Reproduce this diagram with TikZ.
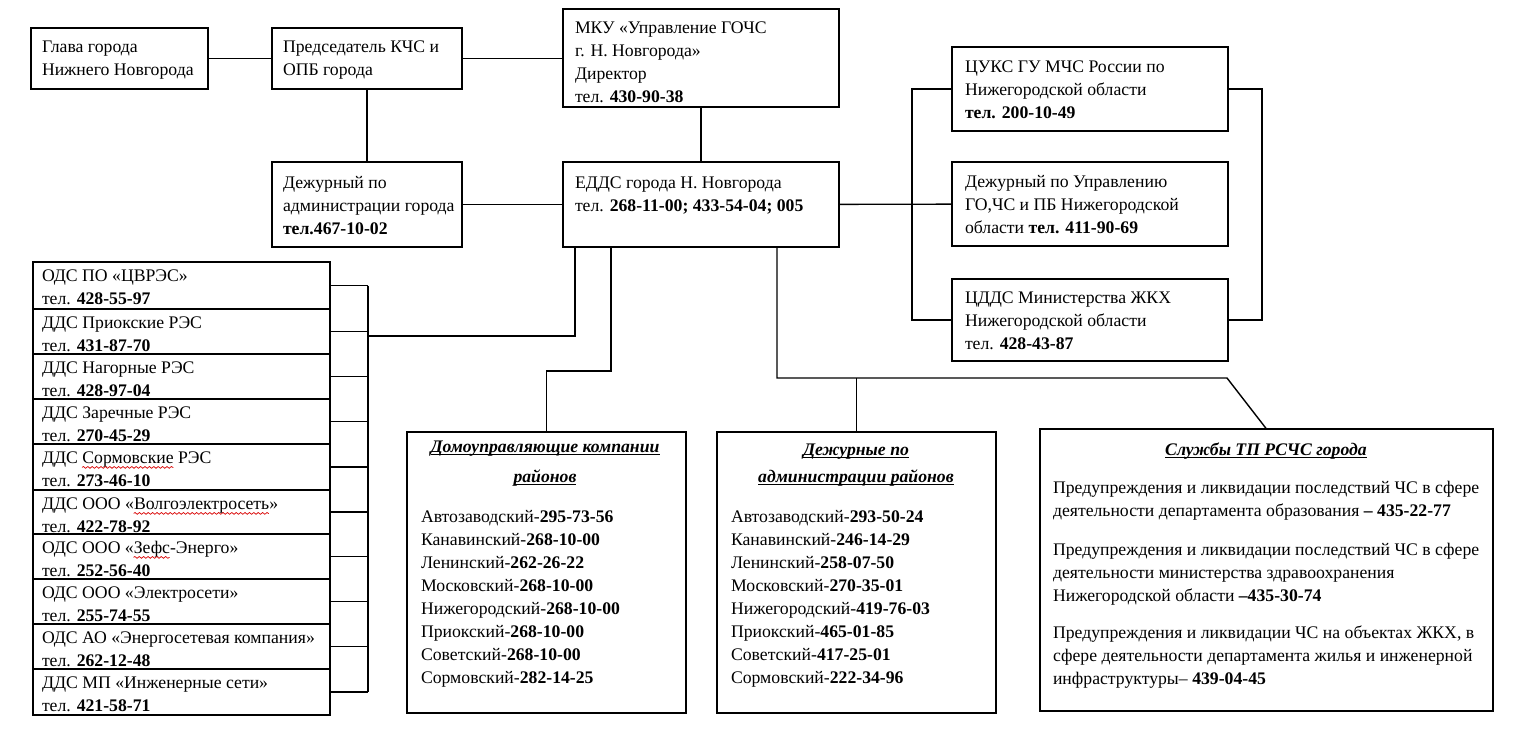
\documentclass[tikz,border=0pt]{standalone}
\usepackage{fontspec}
\usetikzlibrary{decorations.pathmorphing}
\setmainfont{Liberation Serif}
\newsavebox\hdbox
\newsavebox\wvbox
\newcommand\hd[1]{\sbox\hdbox{\textbf{\textit{#1}}}\usebox\hdbox\llap{\rule[-1.3pt]{\wd\hdbox}{0.45pt}}}
\newcommand\redwave[1]{\sbox\wvbox{#1}\usebox\wvbox\llap{\tikz[baseline=0pt,x=1pt,y=1pt]\draw[red!85!black, line width=0.35pt, decorate, decoration={snake, amplitude=0.45pt, segment length=2.2pt}] (0,-2.2) -- (\the\wd\wvbox,-2.2);}}
\newcommand\fs{\fontsize{8.85pt}{11.5pt}\selectfont}
\newcommand\mkbox[5]{\path ({(#2+#4)/2},{(#3+#5)/2}) node[box, minimum width={(#4-#2)*0.5pt}, minimum height={(#5-#3)*0.5pt}] (#1) {};}
\newcommand\txt[4]{\node[txt, anchor=base west] (#1) at (#2,#3) {\begin{tabular}[t]{@{}l@{}}#4\end{tabular}};}
\newcommand\ctxt[4]{\node[txt, anchor=base] (#1) at (#2,#3) {\begin{tabular}[t]{@{}c@{}}#4\end{tabular}};}
\begin{document}
\begin{tikzpicture}[x=0.5pt,y=-0.5pt,
  box/.style={draw, line width=0.75pt, inner sep=0pt, outer sep=0pt},
  txt/.style={inner sep=0pt, outer sep=0pt, font=\fs},
  conn/.style={line width=0.7pt}]
\useasboundingbox (0,0) rectangle (1516,755);
% boxes
\mkbox{glava}{31}{28}{208}{89}
\mkbox{pred}{272}{28}{462}{89}
\mkbox{mku}{563}{9}{839}{107}
\mkbox{dgor}{272}{162}{462}{247}
\mkbox{edds}{563}{162}{839}{247}
\mkbox{cuks}{952}{47}{1228}{131}
\mkbox{dupr}{952}{162}{1228}{246}
\mkbox{cdds}{952}{279}{1228}{361}
\mkbox{r1}{33}{262}{330}{309}
\mkbox{r2}{33}{309}{330}{354}
\mkbox{r3}{33}{354}{330}{399}
\mkbox{r4}{33}{399}{330}{444}
\mkbox{r5}{33}{444}{330}{490}
\mkbox{r6}{33}{490}{330}{534}
\mkbox{r7}{33}{534}{330}{579}
\mkbox{r8}{33}{579}{330}{624}
\mkbox{r9}{33}{624}{330}{669}
\mkbox{r10}{33}{669}{330}{715}
\mkbox{dom}{407}{432}{686}{713}
\mkbox{dra}{717}{432}{996}{713}
\mkbox{sl}{1040}{429}{1493}{711}
% texts
\txt{tglava}{42}{52}{Глава города\\Нижнего Новгорода}
\txt{tpred}{283}{52}{Председатель КЧС и\\ОПБ города}
\txt{tmku}{575}{33}{МКУ «Управление ГОЧС\\г. Н. Новгорода»\\Директор\\тел. \textbf{430-90-38}}
\txt{tdgor}{283}{188}{Дежурный по\\администрации города\\\textbf{тел.467-10-02}}
\txt{tedds}{575}{188}{ЕДДС города Н. Новгорода\\тел. \textbf{268-11-00; 433-54-04; 005}}
\txt{tcuks}{965}{72}{ЦУКС ГУ МЧС России по\\Нижегородской области\\\textbf{тел. 200-10-49}}
\txt{tdupr}{965}{187}{Дежурный по Управлению\\ГО,ЧС и ПБ Нижегородской\\области \textbf{тел. 411-90-69}}
\txt{tcdds}{965}{303}{ЦДДС Министерства ЖКХ\\Нижегородской области\\тел. \textbf{428-43-87}}
\txt{tr1}{42}{281}{ОДС ПО «ЦВРЭС»\\тел. \textbf{428-55-97}}
\txt{tr2}{42}{328}{ДДС Приокские РЭС\\тел. \textbf{431-87-70}}
\txt{tr3}{42}{373}{ДДС Нагорные РЭС\\тел. \textbf{428-97-04}}
\txt{tr4}{42}{418}{ДДС Заречные РЭС\\тел. \textbf{270-45-29}}
\txt{tr5}{42}{463}{ДДС \redwave{Сормовские} РЭС\\тел. \textbf{273-46-10}}
\txt{tr6}{42}{509}{ДДС ООО «\redwave{Волгоэлектросеть}»\\тел. \textbf{422-78-92}}
\txt{tr7}{42}{553}{ОДС ООО «\redwave{Зефс}-Энерго»\\тел. \textbf{252-56-40}}
\txt{tr8}{42}{598}{ОДС ООО «Электросети»\\тел. \textbf{255-74-55}}
\txt{tr9}{42}{643}{ОДС АО «Энергосетевая компания»\\тел. \textbf{262-12-48}}
\txt{tr10}{42}{688}{ДДС МП «Инженерные сети»\\тел. \textbf{421-58-71}}
\ctxt{hdom1}{545}{452}{\hd{Домоуправляющие компании}}
\ctxt{hdom2}{545}{482}{\hd{районов}}
\txt{tdom}{421}{522}{Автозаводский-\textbf{295-73-56}\\Канавинский-\textbf{268-10-00}\\Ленинский-\textbf{262-26-22}\\Московский-\textbf{268-10-00}\\Нижегородский-\textbf{268-10-00}\\Приокский-\textbf{268-10-00}\\Советский-\textbf{268-10-00}\\Сормовский-\textbf{282-14-25}}
\ctxt{hdra1}{856}{455}{\hd{Дежурные по}}
\ctxt{hdra2}{856}{482}{\hd{администрации районов}}
\txt{tdra}{731}{522}{Автозаводский-\textbf{293-50-24}\\Канавинский-\textbf{246-14-29}\\Ленинский-\textbf{258-07-50}\\Московский-\textbf{270-35-01}\\Нижегородский-\textbf{419-76-03}\\Приокский-\textbf{465-01-85}\\Советский-\textbf{417-25-01}\\Сормовский-\textbf{222-34-96}}
\ctxt{hsl}{1266}{455}{\hd{Службы ТП РСЧС города}}
\txt{tsl1}{1053}{493}{Предупреждения и ликвидации последствий ЧС в сфере\\деятельности департамента образования \textbf{– 435-22-77}}
\txt{tsl2}{1053}{555}{Предупреждения и ликвидации последствий ЧС в сфере\\деятельности министерства здравоохранения\\Нижегородской области \textbf{–435-30-74}}
\txt{tsl3}{1053}{638}{Предупреждения и ликвидации ЧС на объектах ЖКХ, в\\сфере деятельности департамента жилья и инженерной\\инфраструктуры– \textbf{439-04-45}}
% connectors
\draw[conn] (glava) -- (pred);
\draw[conn] (pred.east) -- (pred.east -| mku.west);
\draw[conn] (pred) -- (dgor);
\draw[conn] (dgor) -- (edds);
\draw[conn] (mku) -- (edds);
\draw[conn] (edds) -- (dupr);
\coordinate (tr) at (912,0);
\draw[conn] (cuks.west) -- (cuks.west -| tr) -- (cdds.west -| tr) -- (cdds.west);
\coordinate (tr2) at (1262,0);
\draw[conn] (cuks.east) -- (cuks.east -| tr2) -- (cdds.east -| tr2) -- (cdds.east);
\coordinate (lb) at (368,0);
\foreach \i in {1,...,10} {\draw[conn] (r\i.east) -- (r\i.east -| lb);}
\draw[conn] (r1.east -| lb) -- (r10.east -| lb);
\coordinate (j1) at (368,336);
\coordinate (j1b) at (575,336);
\draw[conn] (j1) -- (j1b) -- (j1b |- edds.south);
\coordinate (d1) at (611,371);
\draw[conn] (d1 |- edds.south) -- (d1) -- (d1 -| dom.north) -- (dom.north);
\coordinate (s1) at (777,378);
\coordinate (s2) at (1227,378);
\draw[conn] (s1 |- edds.south) -- (s1) -- (s2) -- (sl.north);
\draw[conn] (s1 -| dra.north) -- (dra.north);
\end{tikzpicture}
\end{document}
